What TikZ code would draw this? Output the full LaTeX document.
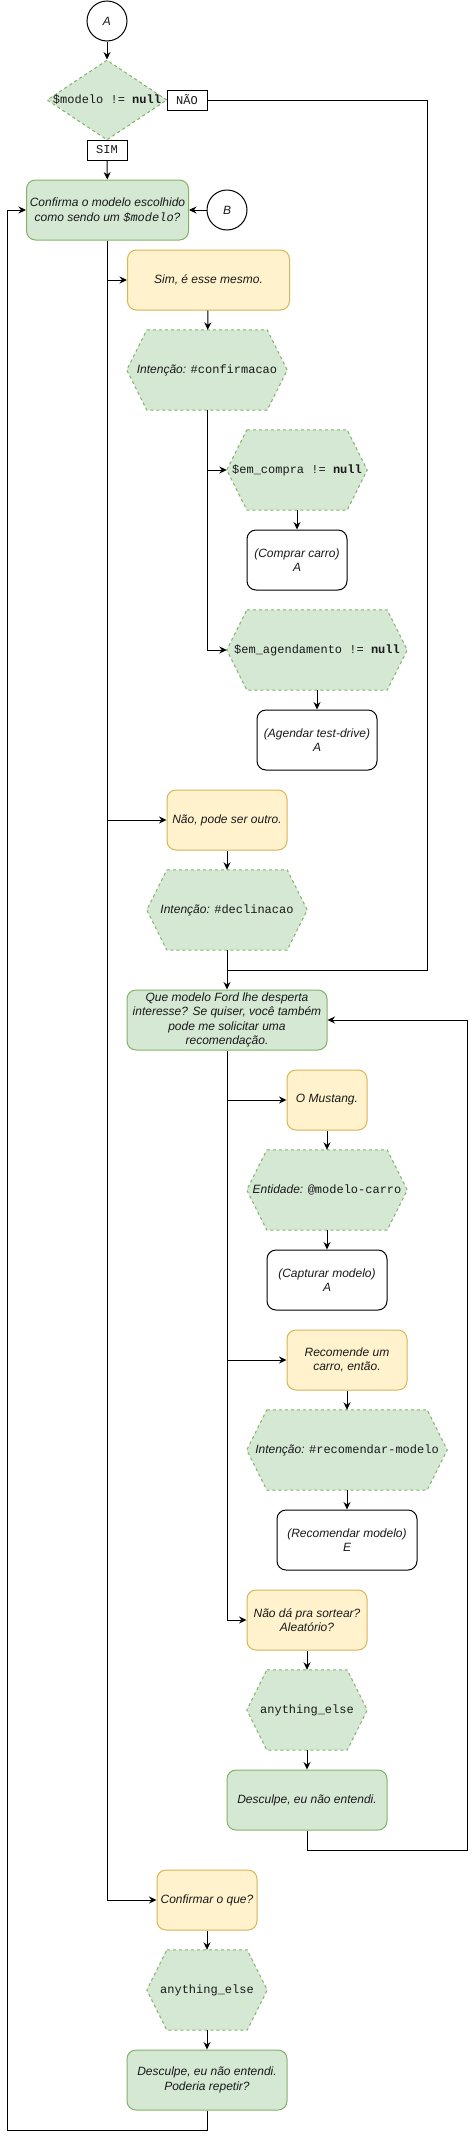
\documentclass[tikz,border=0pt]{standalone}
\usepackage{fontspec}
\setmainfont{Liberation Sans}
\setmonofont{Liberation Mono}
\usetikzlibrary{arrows.meta,shapes.geometric,backgrounds}
\definecolor{gfill}{HTML}{D5E8D4}
\definecolor{gline}{HTML}{82B366}
\definecolor{yfill}{HTML}{FFF2CC}
\definecolor{yline}{HTML}{D6B656}
\newcommand\fsz{\fontsize{12pt}{14.4pt}\selectfont}
\begin{document}
\begin{tikzpicture}[x=1pt,y=-1pt,
  every node/.style={font=\fsz, inner sep=0pt, align=center, text=black!90},
  arr/.style={-{Stealth[length=7.5pt,width=7pt,inset=2.5pt]}, line width=1pt},
  ln/.style={line width=1pt},
  gbox/.style={draw=gline, fill=gfill, rounded corners=9pt, line width=1pt, minimum height=60pt, font=\itshape\fsz},
  ybox/.style={draw=yline, fill=yfill, rounded corners=9pt, line width=1pt, minimum height=60pt, font=\itshape\fsz},
  wbox/.style={draw=black, fill=white, rounded corners=9pt, line width=1pt, minimum height=60pt, font=\itshape\fsz},
  hexn/.style={minimum height=80pt, font=\fsz},
  hexl/.style={draw=gline, fill=gfill, line width=1pt, dash pattern=on 3pt off 3pt},
  circ/.style={circle, draw, line width=1pt, minimum size=40pt, font=\itshape\fsz},
  lbl/.style={draw, fill=white, line width=1pt, minimum width=40pt, minimum height=20pt, font=\ttfamily\fsz},
  dia/.style={diamond, draw=gline, fill=gfill, line width=1pt, dash pattern=on 3pt off 3pt, minimum width=120pt, minimum height=80pt}
]
\useasboundingbox (0,0) rectangle (476,2139);

% nodes
\node[circ] (A) at (107,21) {A};
\node[dia] (d) at (107,100) {};
\node (dt) at (d.center) {\ttfamily\$modelo != \textbf{null}};
\node[lbl] (nao) at (187,100) {NÃO};
\node[lbl] (simlbl) at (107,150) {SIM};
\node[gbox, minimum width=162pt] (conf) at (107.5,210) {Confirma o modelo escolhido\\como sendo um \texttt{\$modelo}?};
\node[circ] (B) at (227,210) {B};

\node[ybox, minimum width=162pt] (sim) at (208.5,280) {Sim, é esse mesmo.};
\node[hexn, minimum width=160pt] (hconf) at (207,370) {{\itshape Intenção:} \texttt{\#confirmacao}};
\node[hexn, minimum width=140pt] (hcompra) at (297,470) {\ttfamily\$em\_compra != \textbf{null}};
\node[wbox, minimum width=100pt] (comprar) at (297,560) {(Comprar carro)\\A};
\node[hexn, minimum width=180pt] (hagend) at (317,650) {\ttfamily\$em\_agendamento != \textbf{null}};
\node[wbox, minimum width=120pt] (agendar) at (317,740) {(Agendar test-drive)\\A};

\node[ybox, minimum width=120pt] (naop) at (227,820) {Não, pode ser outro.};
\node[hexn, minimum width=160pt] (hdecl) at (227,910) {{\itshape Intenção:} \texttt{\#declinacao}};

\node[gbox, minimum width=200pt] (que) at (227,1020) {Que modelo Ford lhe desperta\\interesse? Se quiser, você também\\pode me solicitar uma\\recomendação.};

\node[ybox, minimum width=80pt] (must) at (327,1100) {O Mustang.};
\node[hexn, minimum width=160pt] (hent) at (327,1190) {{\itshape Entidade:} \texttt{@modelo-carro}};
\node[wbox, minimum width=120pt] (capt) at (327,1280) {(Capturar modelo)\\A};

\node[ybox, minimum width=120pt] (recom) at (347,1360) {Recomende um\\carro, então.};
\node[hexn, minimum width=200pt] (hrec) at (347,1450) {{\itshape Intenção:} \texttt{\#recomendar-modelo}};
\node[wbox, minimum width=140pt] (recmod) at (347,1540) {(Recomendar modelo)\\E};

\node[ybox, minimum width=120pt] (naoda) at (307,1620) {Não dá pra sortear?\\Aleatório?};
\node[hexn, minimum width=120pt] (hany1) at (307,1710) {\ttfamily anything\_else};
\node[gbox, minimum width=160pt] (desc1) at (307,1800) {Desculpe, eu não entendi.};

\node[ybox, minimum width=100pt] (confq) at (207,1900) {Confirmar o que?};
\node[hexn, minimum width=120pt] (hany2) at (207,1990) {\ttfamily anything\_else};
\node[gbox, minimum width=160pt] (desc2) at (207,2080) {Desculpe, eu não entendi.\\Poderia repetir?};

% hexagon outlines
\begin{scope}[on background layer]
\foreach \n in {hconf,hcompra,hagend,hdecl,hent,hrec,hany1,hany2}
  \draw[hexl] ([xshift=20pt]\n.north west) -- ([xshift=-20pt]\n.north east) -- (\n.east)
    -- ([xshift=-20pt]\n.south east) -- ([xshift=20pt]\n.south west) -- (\n.west) -- cycle;
\end{scope}

% coordinates for loops
\coordinate (r1) at (427,970);
\coordinate (r2) at (467,1850);
\coordinate (l1) at (7,2130);

% connectors
\draw[arr] (A) -- (d);
\draw[arr] (simlbl) -- (conf);
\draw[arr] (B) -- (conf);
\draw[ln] (nao.east) -| (r1) -- (hdecl.south |- r1);

\draw[arr] (conf.south) |- (confq.west);
\draw[arr] (conf.south |- sim.west) -- (sim.west);
\draw[arr] (conf.south |- naop.west) -- (naop.west);

\draw[arr] (sim) -- (hconf);
\draw[arr] (hconf.south) |- (hagend.west);
\draw[arr] (hconf.south |- hcompra.west) -- (hcompra.west);
\draw[arr] (hcompra) -- (comprar);
\draw[arr] (hagend) -- (agendar);

\draw[arr] (naop) -- (hdecl);
\draw[arr] (hdecl) -- (que);

\draw[arr] (que.south) |- (naoda.west);
\draw[arr] (que.south |- must.west) -- (must.west);
\draw[arr] (que.south |- recom.west) -- (recom.west);

\draw[arr] (must) -- (hent);
\draw[arr] (hent) -- (capt);
\draw[arr] (recom) -- (hrec);
\draw[arr] (hrec) -- (recmod);
\draw[arr] (naoda) -- (hany1);
\draw[arr] (hany1) -- (desc1);
\draw[arr] (desc1.south) |- (r2) |- (que.east);

\draw[arr] (confq) -- (hany2);
\draw[arr] (hany2) -- (desc2);
\draw[arr] (desc2.south) |- (l1) |- (conf.west);
\end{tikzpicture}
\end{document}
